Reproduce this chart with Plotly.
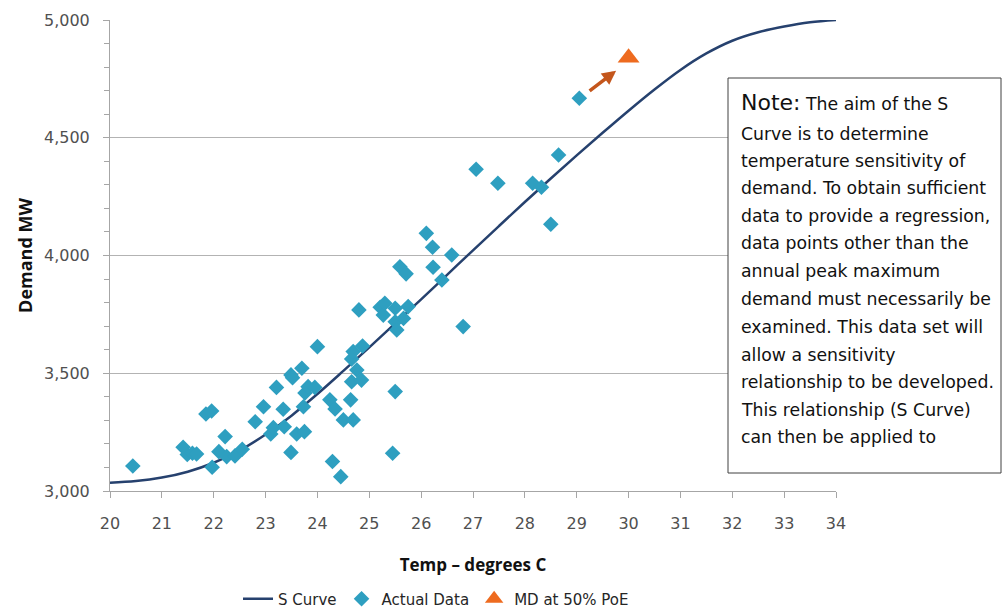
import plotly.graph_objects as go

# ---- data ----
curve_temp = [20, 20.5, 21, 21.5, 22, 22.5, 23, 23.5, 24, 24.5, 25, 25.5, 26, 26.5,
              27, 27.5, 28, 28.5, 29, 29.5, 30, 30.5, 31, 31.5, 32, 32.5, 33, 33.5, 34]
curve_demand = [3035, 3042, 3057, 3082, 3120, 3172, 3240, 3320, 3412, 3510, 3610, 3712,
                3814, 3918, 4022, 4125, 4227, 4327, 4425, 4521, 4615, 4705, 4788, 4858,
                4912, 4948, 4972, 4990, 5000]

actual_temp = [20.44, 21.41, 21.49, 21.59, 21.67, 21.85, 21.96, 21.97, 22.10, 22.22,
               22.25, 22.41, 22.55, 22.80, 22.96, 23.10, 23.15, 23.21, 23.34, 23.36,
               23.49, 23.49, 23.52, 23.60, 23.70, 23.73, 23.76, 23.75, 23.82, 23.95,
               24.00, 24.24, 24.29, 24.34, 24.45, 24.50, 24.64, 24.66, 24.66, 24.69,
               24.69, 24.76, 24.80, 24.85, 24.87, 25.21, 25.27, 25.30, 25.45, 25.50,
               25.50, 25.50, 25.53, 25.59, 25.66, 25.71, 25.75, 26.10, 26.22, 26.23,
               26.40, 26.59, 26.81, 27.06, 27.48, 28.15, 28.32, 28.50, 28.65, 29.05]
actual_demand = [3106, 3186, 3155, 3160, 3157, 3327, 3340, 3101, 3167, 3231,
                 3146, 3149, 3177, 3294, 3358, 3242, 3269, 3440, 3347, 3273,
                 3164, 3493, 3481, 3242, 3521, 3358, 3416, 3252, 3443, 3440,
                 3613, 3387, 3125, 3348, 3061, 3302, 3387, 3464, 3561, 3592,
                 3302, 3514, 3769, 3471, 3616, 3780, 3747, 3797, 3160, 3422,
                 3776, 3719, 3684, 3952, 3733, 3922, 3783, 4094, 4035, 3950,
                 3896, 4002, 3698, 4366, 4307, 4307, 4290, 4133, 4427, 4668]

md_temp = [30.0]
md_demand = [4840]

x_ticks = list(range(20, 35))
y_ticks = [3000, 3500, 4000, 4500, 5000]
y_tick_labels = ["3,000", "3,500", "4,000", "4,500", "5,000"]

note_lines = [
    "The aim of the S",
    "Curve is to determine",
    "temperature sensitivity of",
    "demand. To obtain sufficient",
    "data to provide a regression,",
    "data points other than the",
    "annual peak maximum",
    "demand must necessarily be",
    "examined. This data set will",
    "allow a sensitivity",
    "relationship to be developed.",
    "This relationship (S Curve)",
    "can then be applied to",
]

# ---- figure ----
W, H = 1002, 612
L, R, T, B = 110, 166, 20, 121
plot_h = H - T - B
plot_w = W - L - R

def py(p):
    return (H - B - p) / plot_h

def px(p):
    return (p - L) / plot_w

fig = go.Figure()
fig.add_trace(go.Scatter(
    x=curve_temp, y=curve_demand, mode="lines", name="S Curve",
    line=dict(color="#26416e", width=2.5, shape="spline", smoothing=1.0),
))
fig.add_trace(go.Scatter(
    x=actual_temp, y=actual_demand, mode="markers", name="Actual Data",
    marker=dict(symbol="diamond", size=12, color="#2e9fc0"),
))
fig.add_trace(go.Scatter(
    x=md_temp, y=md_demand, mode="markers", name="MD at 50% PoE",
    marker=dict(symbol="triangle-up", size=19, color="#ee6b1f"),
))

font_family = "DejaVu Sans"
tick_color = "#505050"

# Arrow pointing at the MD marker
fig.add_annotation(
    x=29.76, y=4785, ax=29.22, ay=4694, xref="x", yref="y", axref="x", ayref="y",
    text="", showarrow=True, arrowhead=2, arrowsize=0.8, arrowwidth=3.5,
    arrowcolor="#c4561c",
)

# Note box
fig.add_shape(
    type="rect", xref="paper", yref="paper",
    x0=px(728), x1=px(1001), y0=py(473), y1=py(78),
    line=dict(color="#404040", width=1), fillcolor="white", layer="above",
)
line_centers = [103, 134, 161, 188, 216, 243, 271, 299, 327, 355, 382, 410, 437]
for i, (txt, yc) in enumerate(zip(note_lines, line_centers)):
    if i == 0:
        txt = '<span style="font-size:22px">Note:</span> ' + txt
    fig.add_annotation(
        x=px(739), y=py(yc), xref="paper", yref="paper", xanchor="left",
        yanchor="middle", text=txt, showarrow=False, align="left",
        font=dict(family=font_family, size=17.3, color="#111111"),
    )

fig.update_layout(
    width=W, height=H,
    margin=dict(l=L, r=R, t=T, b=B, autoexpand=False),
    paper_bgcolor="white", plot_bgcolor="white",
    font=dict(family=font_family, color=tick_color),
    showlegend=True,
    legend=dict(
        orientation="h", x=px(436), xanchor="center", y=py(599), yanchor="middle",
        font=dict(family=font_family, size=15, color="#262626"),
        itemwidth=30, tracegroupgap=0,
    ),
    xaxis=dict(
        range=[20, 34], tickmode="array", tickvals=x_ticks,
        ticktext=[str(v) for v in x_ticks],
        showgrid=False, zeroline=False, showline=True, linecolor="#a6a6a6",
        linewidth=1, ticks="outside", ticklen=6, tickcolor="#a6a6a6",
        ticklabelstandoff=12,
        tickfont=dict(family=font_family, size=16, color=tick_color),
        title=dict(text="<b>Temp – degrees C</b>", standoff=26,
                   font=dict(family="Open Sans", size=17, color="#111111")),
    ),
    yaxis=dict(
        range=[3000, 5000], tickmode="array", tickvals=y_ticks, ticktext=y_tick_labels,
        showgrid=True, gridcolor="#b3b3b3", gridwidth=1, zeroline=False,
        showline=True, linecolor="#a6a6a6", linewidth=1,
        ticks="outside", ticklen=6, tickcolor="#a6a6a6",
        ticklabelstandoff=10,
        minor=dict(dtick=100, tick0=3000, ticks="outside", ticklen=5,
                   tickcolor="#a6a6a6", showgrid=False),
        tickfont=dict(family=font_family, size=16, color=tick_color),
        title=dict(text="<b>Demand MW</b>", standoff=6,
                   font=dict(family="Open Sans", size=18, color="#111111")),
    ),
)

fig.write_html("out.html")
